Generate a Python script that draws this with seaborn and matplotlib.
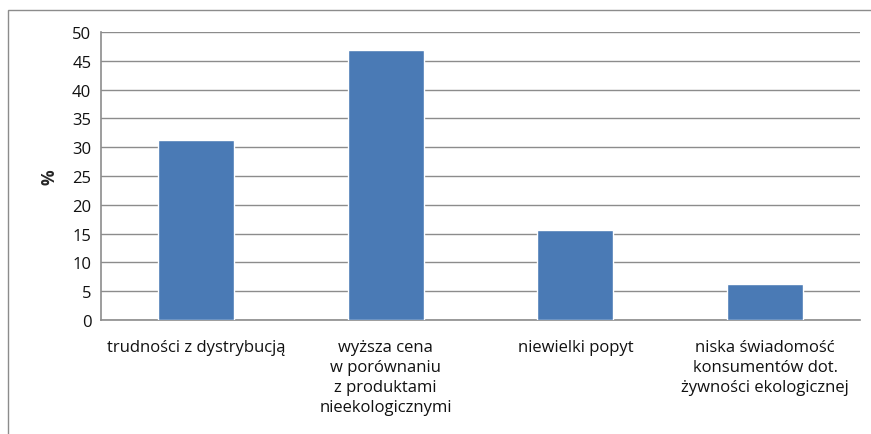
import pandas as pd
import seaborn as sns
import matplotlib.pyplot as plt
from matplotlib.patches import Rectangle

# dane
kategorie = [
    "trudności z dystrybucją",
    "wyższa cena\nw porównaniu\nz produktami\nnieekologicznymi",
    "niewielki popyt",
    "niska świadomość\nkonsumentów dot.\nżywności ekologicznej",
]
wartosci = [31.25, 46.9, 15.6, 6.25]
yticks = [0, 5, 10, 15, 20, 25, 30, 35, 40, 45, 50]

df = pd.DataFrame({"kategoria": kategorie, "procent": wartosci})

sns.set_style("white")
plt.rcParams["font.family"] = ["Open Sans", "DejaVu Sans"]

fig = plt.figure(figsize=(8.71, 4.35), dpi=100)
ax = fig.add_axes([101 / 871, 1 - 321 / 435, (860 - 101) / 871, (321 - 33) / 435])

sns.barplot(data=df, x="kategoria", y="procent", color="#4a7ab5",
            width=0.4, saturation=1, ax=ax, zorder=3)

ax.set_ylim(0, 50)
ax.set_yticks(yticks)
ax.yaxis.grid(True, color="#8c8c8c", linewidth=1, zorder=0)
ax.tick_params(axis="y", length=0, pad=7, labelsize=12, labelcolor="#111111")
ax.tick_params(axis="x", length=0, pad=14, labelsize=12, labelcolor="#111111")
for lab in ax.get_xticklabels():
    lab.set_multialignment("center")
    lab.set_linespacing(1.32)

for side in ["top", "right"]:
    ax.spines[side].set_visible(False)
for side in ["left", "bottom"]:
    ax.spines[side].set_color("#8c8c8c")
    ax.spines[side].set_linewidth(1.2)

ax.set_xlabel("")
ax.set_ylabel("%", fontsize=12.5, fontweight="bold", labelpad=10)

# ramka wokół wykresu
fig.patches.append(Rectangle((8 / 871, -0.1), 1.2, 1 - 11 / 435 + 0.1,
                             transform=fig.transFigure, fill=False,
                             edgecolor="#8c8c8c", linewidth=1))

plt.savefig("out.png", dpi=100)
